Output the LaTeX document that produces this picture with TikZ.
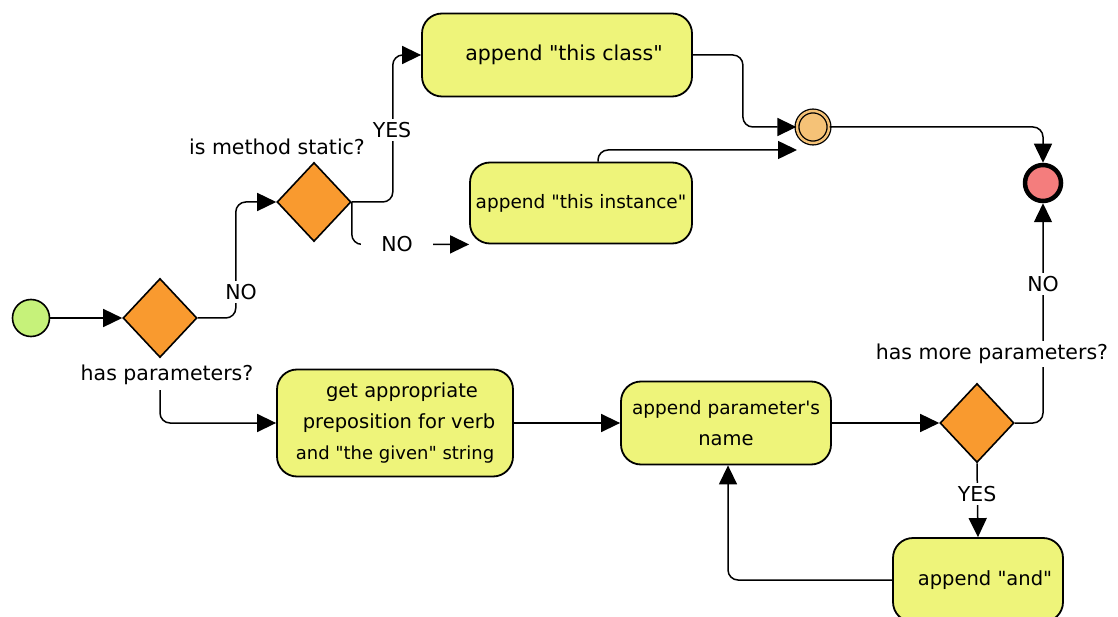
\documentclass[tikz,border=0pt]{standalone}
\usepackage{fontspec}
\setmainfont{DejaVu Sans}
\usetikzlibrary{shapes.geometric,arrows.meta}

\definecolor{boxyellow}{HTML}{EEF47A}
\definecolor{choiceorange}{HTML}{F99A2F}
\definecolor{startgreen}{HTML}{C6F27A}
\definecolor{mergeorange}{HTML}{F5C277}
\definecolor{endred}{HTML}{F47D7D}

% straight double quote
\newcommand{\dq}{\textquotedbl}

\begin{document}
\begin{tikzpicture}[x=1pt,y=-1pt,
  action/.style={draw, line width=1.8pt, fill=boxyellow, rectangle,
    rounded corners=20pt, align=center, inner sep=2pt,
    font=\fontsize{19.5}{31}\selectfont},
  choice/.style={draw, line width=1.6pt, fill=choiceorange, diamond,
    inner sep=0pt, minimum width=74pt, minimum height=79pt},
  flow/.style={line width=1.5pt, rounded corners=10pt,
    -{Triangle[length=19pt,width=18pt]}},
  lbl/.style={fill=white, inner sep=3pt, font=\fontsize{20.5}{22}\selectfont}
]

  % Fix the page to the size of the picture
  \useasboundingbox (0,0) rectangle (1118,617);

  % Start and end of the flow
  \node[circle, draw, line width=1.6pt, fill=startgreen, minimum size=37pt] (start) at (31,318) {};
  \node[circle, draw, line width=4.5pt, fill=endred, minimum size=36pt] (finish) at (1043,183) {};

  % Merge point of the two branches
  \node[circle, draw, line width=1.3pt, fill=mergeorange, double=mergeorange,
    double distance=2.5pt, minimum size=32pt] (merge) at (813,127) {};

  % The decisions
  \node[choice] (hasparams) at (160,318) {};
  \node[choice] (isstatic) at (314,202) {};
  \node[choice] (hasmore) at (977,423) {};

  % The actions
  \node[action, minimum width=270pt, minimum height=83pt,
    font=\fontsize{20.5}{24}\selectfont] (thisclass) at (557,55)
    {\hspace{14pt}append \dq this class\dq};
  \node[action, minimum width=222pt, minimum height=81pt,
    font=\fontsize{18.5}{22}\selectfont] (thisinst) at (581,203) {append \dq this instance\dq};
  \node[action, minimum width=236pt, minimum height=107pt] (prep) at (395,423)
    {\hspace{14pt}get appropriate\\ \hspace{8pt}preposition for verb\\
     {\fontsize{18}{22}\selectfont and \dq the given\dq{} string}};
  \node[action, minimum width=210pt, minimum height=83pt] (paramname) at (726,423)
    {{\fontsize{18.5}{22}\selectfont append parameter\textquotesingle s}\\ name};
  \node[action, minimum width=170pt, minimum height=84pt] (appendand) at (978,580)
    {\hspace{14pt}append \dq and\dq};

  % Free end of the connector from "this instance"
  \coordinate (mergein) at (797,150);

  % Connectors
  \draw[flow] (start) -- (hasparams);
  \draw[flow] (hasparams.east) -- ++(38,0) |- (isstatic.west);
  \draw[flow] (isstatic.east) -- ++(41,0) |- (thisclass.west);
  \draw[flow] (isstatic.east) |- (thisinst.south west);
  \draw[flow] (thisclass.east) -- ++(50,0) |- (merge.west);
  \draw[flow] ([xshift=17pt]thisinst.north) |- (mergein);
  \draw[flow] (merge.east) -| (finish.north);
  \draw[flow] (160,390) |- (prep.west);
  \draw[flow] (prep) -- (paramname);
  \draw[flow] (paramname) -- (hasmore);
  \draw[flow] (hasmore.east) -| (finish.south);
  \draw[flow] (hasmore.south) -- (appendand.north);
  \draw[flow] (appendand.west) -| ([xshift=2pt]paramname.south);

  % Labels of the decisions and the branches
  \node[lbl] (lblhas) at (167,375) {has parameters?};
  \node[lbl] (lblstatic) at (277,147) {is method static?};
  \node[lbl] (lblmore) at (992,354) {has more parameters?};
  \node[lbl] (no1) at (241,292) {NO};
  \node[lbl] (yes1) at (392,130) {YES};
  \node[lbl, inner xsep=20pt] (no2) at (397,244) {NO};
  \node[lbl] (no3) at (1043,284) {NO};
  \node[lbl] (yes2) at (977,494) {YES};

\end{tikzpicture}
\end{document}
